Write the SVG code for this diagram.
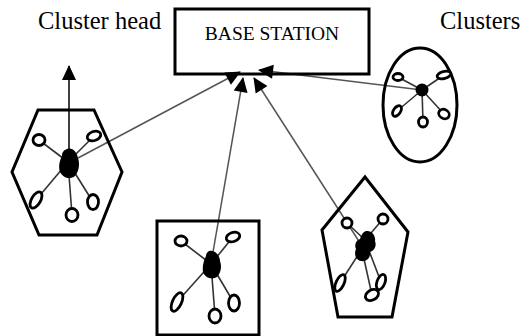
<svg xmlns="http://www.w3.org/2000/svg" width="521" height="336" viewBox="0 0 521 336">
  <style>
    .label { font-family: "Liberation Serif", "Times New Roman", serif; fill: #000; }
    .frame { fill: none; stroke: #000; stroke-width: 3; stroke-linejoin: miter; }
    .node { fill: #fff; stroke: #000; stroke-width: 2.8; }
    .hub { fill: #000; stroke: none; }
    .spoke { stroke: #333; stroke-width: 1.6; fill: none; }
    .link { stroke: #555; stroke-width: 1.5; fill: none; }
  </style>
  <defs>
    <marker id="head" viewBox="0 0 10 10" refX="9" refY="5" markerWidth="10" markerHeight="10" markerUnits="userSpaceOnUse" orient="auto" overflow="visible">
      <path d="M-5,-2 L10,5 L-5,12 Z" fill="#000"/>
    </marker>
  </defs>

  <rect width="521" height="336" fill="#fff"/>

  <text class="label" x="38" y="29" font-size="24.5">Cluster head</text>
  <text class="label" x="440" y="29" font-size="24.5">Clusters</text>

  <!-- connectors to the base station -->
  <g id="connectors">
    <line class="link" x1="78" y1="158" x2="240" y2="72" marker-end="url(#head)"/>
    <line class="link" x1="212" y1="258" x2="243" y2="78" marker-end="url(#head)"/>
    <line class="link" x1="362" y1="246" x2="254" y2="78" marker-end="url(#head)"/>
    <line class="link" x1="422" y1="90" x2="259" y2="70" marker-end="url(#head)"/>
    <line stroke="#000" stroke-width="1.5" x1="69" y1="152" x2="69" y2="66" marker-end="url(#head)"/>
  </g>

  <g id="base-station">
    <rect class="frame" x="175" y="9" width="194" height="65"/>
    <text class="label" x="272" y="40" font-size="19.5" text-anchor="middle">BASE STATION</text>
  </g>

  <!-- hexagonal cluster -->
  <g id="cluster-hexagon">
    <polygon class="frame" points="38,110 94,110 122,172 97,235 39,235 12,172"/>
    <g class="spoke">
      <line x1="68" y1="162" x2="39" y2="140"/>
      <line x1="68" y1="162" x2="94" y2="136"/>
      <line x1="68" y1="162" x2="36" y2="200"/>
      <line x1="68" y1="162" x2="72" y2="215"/>
      <line x1="68" y1="162" x2="93" y2="202"/>
    </g>
    <path class="hub" d="M67,149 C73,147 77,153 78,158 C80,164 79,171 75,176 C70,180 63,178 60,172 C58,166 60,160 62,156 C62,152 64,150 67,149 Z"/>
    <ellipse class="node" cx="39" cy="140" rx="6" ry="5.5"/>
    <ellipse class="node" cx="94" cy="136" rx="7" ry="4.5" transform="rotate(-20 94 136)"/>
    <ellipse class="node" cx="36" cy="200" rx="4.5" ry="9" transform="rotate(30 36 200)"/>
    <ellipse class="node" cx="72" cy="215" rx="6" ry="6.5"/>
    <ellipse class="node" cx="93" cy="202" rx="5.5" ry="7.5"/>
  </g>

  <!-- oval cluster -->
  <g id="cluster-oval">
    <ellipse class="frame" cx="420" cy="105" rx="37" ry="57"/>
    <g class="spoke">
      <line x1="422" y1="90" x2="398" y2="77"/>
      <line x1="422" y1="90" x2="444" y2="75"/>
      <line x1="422" y1="90" x2="397" y2="111"/>
      <line x1="422" y1="90" x2="423" y2="122"/>
      <line x1="422" y1="90" x2="444" y2="114"/>
    </g>
    <circle class="hub" cx="422" cy="90" r="6.5"/>
    <ellipse class="node" cx="398" cy="77" rx="5" ry="3.5"/>
    <ellipse class="node" cx="444" cy="75" rx="7" ry="3.5" transform="rotate(-15 444 75)"/>
    <ellipse class="node" cx="397" cy="111" rx="3.5" ry="6" transform="rotate(35 397 111)"/>
    <ellipse class="node" cx="423" cy="122" rx="4.5" ry="5"/>
    <ellipse class="node" cx="444" cy="114" rx="5.5" ry="4.5" transform="rotate(30 444 114)"/>
  </g>

  <!-- square cluster -->
  <g id="cluster-square">
    <rect class="frame" x="157" y="221" width="102" height="114"/>
    <g class="spoke">
      <line x1="211" y1="264" x2="181" y2="241"/>
      <line x1="211" y1="264" x2="233" y2="237"/>
      <line x1="211" y1="264" x2="177" y2="302"/>
      <line x1="211" y1="264" x2="215" y2="316"/>
      <line x1="211" y1="264" x2="234" y2="303"/>
    </g>
    <path class="hub" d="M209,251 C215,249 220,256 220,261 C222,266 221,273 217,277 C212,280 205,278 203,272 C202,266 204,260 206,256 C206,254 207,252 209,251 Z"/>
    <ellipse class="node" cx="181" cy="241" rx="6" ry="5"/>
    <ellipse class="node" cx="233" cy="237" rx="7" ry="4.5" transform="rotate(-20 233 237)"/>
    <ellipse class="node" cx="177" cy="302" rx="4.5" ry="10" transform="rotate(25 177 302)"/>
    <ellipse class="node" cx="215" cy="316" rx="6" ry="7"/>
    <ellipse class="node" cx="234" cy="303" rx="5.5" ry="8"/>
  </g>

  <!-- pentagonal cluster -->
  <g id="cluster-pentagon">
    <polygon class="frame" points="365,177 408,232 392,317 338,317 322,230"/>
    <g class="spoke">
      <line x1="365" y1="240" x2="347" y2="223"/>
      <line x1="365" y1="240" x2="383" y2="219"/>
      <line x1="360" y1="252" x2="340" y2="283"/>
      <line x1="362" y1="250" x2="372" y2="295"/>
      <line x1="368" y1="248" x2="381" y2="282"/>
    </g>
    <path class="hub" d="M366,231 C372,230 376,236 375,241 C377,246 374,251 370,252 C371,258 366,262 361,261 C355,260 354,253 356,249 C354,245 356,240 360,239 C361,235 363,232 366,231 Z"/>
    <ellipse class="node" cx="347" cy="223" rx="5" ry="5"/>
    <ellipse class="node" cx="383" cy="219" rx="5" ry="5"/>
    <ellipse class="node" cx="340" cy="283" rx="4" ry="9" transform="rotate(25 340 283)"/>
    <ellipse class="node" cx="381" cy="282" rx="4" ry="8" transform="rotate(20 381 282)"/>
    <ellipse class="node" cx="372" cy="295" rx="7" ry="5" transform="rotate(-30 372 295)"/>
  </g>
</svg>
